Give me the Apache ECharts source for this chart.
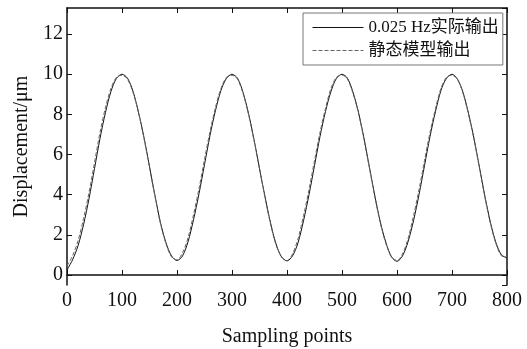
<!DOCTYPE html>
<html>
<head>
<meta charset="utf-8">
<script src="https://cdn.jsdelivr.net/npm/echarts@6/dist/echarts.min.js"></script>
<style>html,body{margin:0;padding:0;background:#fff;}#main{width:527px;height:349px;}</style>
</head>
<body>
<div id="main"></div>
<script>
var samples = [0,10,20,30,40,50,60,70,80,90,100,110,120,130,140,150,160,170,180,190,200,
  210,220,230,240,250,260,270,280,290,300,310,320,330,340,350,360,370,380,390,400,
  410,420,430,440,450,460,470,480,490,500,510,520,530,540,550,560,570,580,590,600,
  610,620,630,640,650,660,670,680,690,700,710,720,730,740,750,760,770,780,790,800];
var actualOutput = [0.25,0.75,1.45,2.5,3.8,5.3,6.8,8.1,9.15,9.8,10.0,
  9.8,9.15,8.1,6.85,5.4,3.95,2.6,1.6,0.95,0.72,
  0.95,1.65,2.75,4.05,5.5,6.95,8.2,9.2,9.8,10.0,
  9.8,9.1,8.05,6.75,5.3,3.9,2.6,1.55,0.9,0.7,
  0.95,1.6,2.7,4.0,5.45,6.9,8.15,9.15,9.8,10.0,
  9.8,9.1,8.1,6.8,5.35,3.9,2.6,1.6,0.9,0.68,
  0.95,1.65,2.7,4.0,5.45,6.9,8.15,9.2,9.8,10.0,
  9.75,9.1,8.05,6.8,5.35,3.9,2.6,1.6,1.0,0.85];
var staticModel = [0.45,0.95,1.7,2.8,4.1,5.6,7.1,8.35,9.3,9.85,9.95,
  9.75,9.1,8.1,6.8,5.35,3.9,2.55,1.55,0.9,0.75,
  1.1,1.85,3.0,4.3,5.75,7.15,8.35,9.3,9.85,9.95,
  9.75,9.05,8.0,6.7,5.3,3.85,2.55,1.5,0.9,0.72,
  1.05,1.8,2.95,4.25,5.7,7.1,8.3,9.3,9.85,9.95,
  9.75,9.05,8.05,6.75,5.3,3.85,2.55,1.55,0.9,0.72,
  1.05,1.8,2.95,4.25,5.7,7.1,8.3,9.3,9.85,9.95,
  9.75,9.05,8.0,6.75,5.3,3.85,2.55,1.55,0.95,0.9];
var seriesNames = ['0.025 Hz实际输出', '静态模型输出'];
var xTitle = 'Sampling points';
var yTitle = 'Displacement/μm';

function pairs(ys){ return samples.map(function(x,i){ return [x, ys[i]]; }); }

var FONT = '"Liberation Serif", "Times New Roman", "Noto Sans CJK SC", serif';
var chart = echarts.init(document.getElementById('main'), null, {renderer:'canvas'});
var tickStyle = {show:true, inside:true, length:5, lineStyle:{color:'#111', width:1}};
chart.setOption({
  animation:false,
  backgroundColor:'#fff',
  grid:{left:67, right:20, top:8, bottom:64, show:false, containLabel:false, outerBoundsMode:'none'},
  legend:{
    orient:'vertical', left:303, top:13,
    itemWidth:51, itemHeight:14, itemGap:6,
    padding:[6,4,6,9],
    borderColor:'#777', borderWidth:1, backgroundColor:'#fff',
    itemStyle:{color:'rgba(0,0,0,0)', borderWidth:0, opacity:0},
    lineStyle:{width:1},
    textStyle:{fontFamily:FONT, fontSize:17, color:'#111'},
    data:seriesNames
  },
  xAxis:[{
    type:'value', min:0, max:800, interval:100, position:'bottom',
    name:xTitle, nameLocation:'middle', nameGap:42,
    nameTextStyle:{fontFamily:FONT, fontSize:20, color:'#111'},
    axisLine:{show:true, lineStyle:{color:'#111', width:1.5}},
    axisTick:tickStyle,
    axisLabel:{fontFamily:FONT, fontSize:20, color:'#111', margin:6},
    splitLine:{show:false}
  },{
    type:'value', min:0, max:800, interval:100, position:'top',
    axisLine:{show:true, onZero:false, lineStyle:{color:'#111', width:1.5}},
    axisTick:tickStyle, axisLabel:{show:false}, splitLine:{show:false}
  }],
  yAxis:[{
    type:'value', min:-0.5, max:13.3, splitNumber:7, position:'left',
    name:yTitle, nameLocation:'middle', nameGap:34,
    nameTextStyle:{fontFamily:FONT, fontSize:20, color:'#111'},
    axisLine:{show:true, onZero:false, lineStyle:{color:'#111', width:1.5}},
    axisTick:tickStyle,
    axisLabel:{fontFamily:FONT, fontSize:20, color:'#111', margin:4, showMinLabel:false, showMaxLabel:false,
      formatter:function(v){ return (Math.abs(v - Math.round(v))<1e-9) ? String(v) : ''; }},
    splitLine:{show:false}
  },{
    type:'value', min:-0.5, max:13.3, splitNumber:7, position:'right',
    axisLine:{show:true, onZero:false, lineStyle:{color:'#111', width:1.5}},
    axisTick:tickStyle, axisLabel:{show:false}, splitLine:{show:false}
  }],
  series:[{
    name:seriesNames[0], type:'line', data:pairs(actualOutput),
    showSymbol:false, symbol:'none', smooth:0.3,
    lineStyle:{color:'#111', width:1, type:'solid'},
    itemStyle:{color:'#111'}
  },{
    name:seriesNames[1], type:'line', data:pairs(staticModel),
    showSymbol:false, symbol:'none', smooth:0.3,
    lineStyle:{color:'#666', width:1, type:[4,2]},
    itemStyle:{color:'#666'}
  }]
});
</script>
</body>
</html>
